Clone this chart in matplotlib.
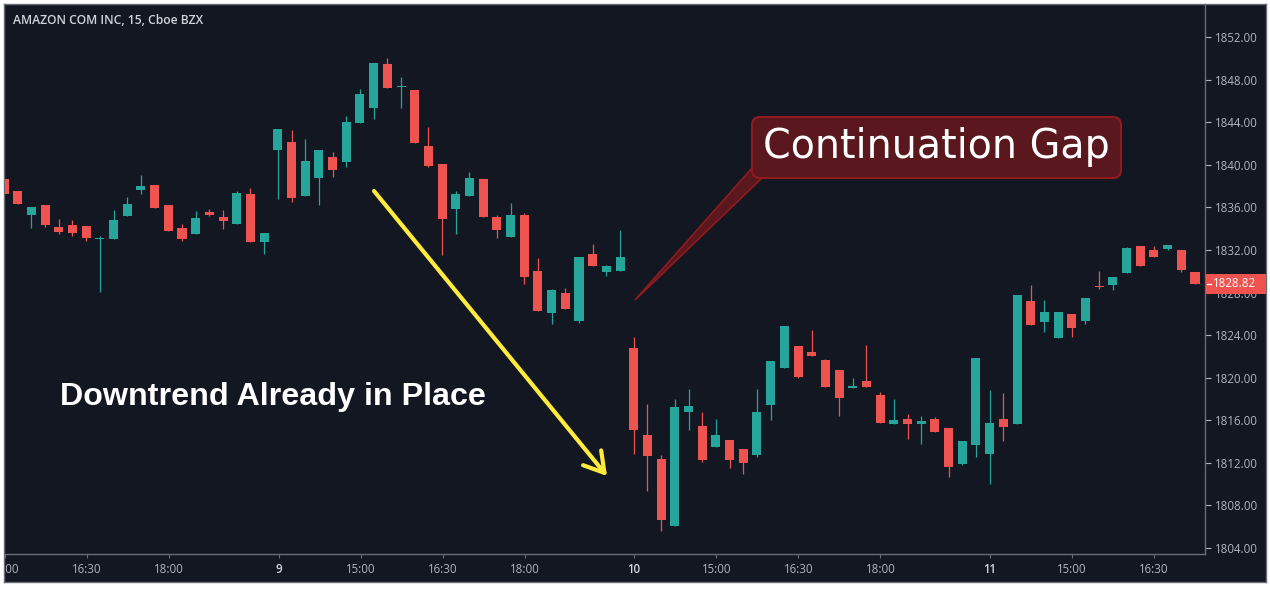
import matplotlib
matplotlib.use("Agg")
import matplotlib.pyplot as plt
from matplotlib.transforms import Affine2D, blended_transform_factory
from matplotlib.patches import FancyBboxPatch, Polygon, Rectangle
import numpy as np

W, H, DPI = 1270, 589, 100

# 15 minute bars, AMZN (Cboe BZX)
opens = [1838.66, 1837.53, 1835.31, 1836.22, 1834.15, 1834.34, 1834.25, 1833.03, 1833.03, 1835.19,
         1837.63, 1838.10, 1836.22, 1834.06, 1833.52, 1835.56, 1835.09, 1834.46, 1837.25, 1832.77,
         1841.41, 1842.14, 1837.09, 1838.78, 1840.73, 1840.29, 1843.95, 1845.36, 1849.46, 1847.30,
         1847.02, 1841.76, 1840.07, 1835.87, 1837.09, 1838.66, 1835.09, 1833.24, 1835.28, 1830.02,
         1826.10, 1827.95, 1825.35, 1831.62, 1829.95, 1830.05, 1822.79, 1814.62, 1812.36, 1806.07,
         1816.78, 1815.46, 1813.49, 1814.15, 1813.30, 1812.74, 1817.43, 1820.91, 1822.97, 1822.41,
         1821.66, 1820.72, 1819.03, 1819.69, 1818.37, 1815.65, 1816.12, 1815.65, 1816.12, 1815.27,
         1811.89, 1813.68, 1812.83, 1816.12, 1815.65, 1827.20, 1825.23, 1823.73, 1825.98, 1825.32,
         1828.61, 1828.70, 1829.83, 1832.37, 1832.00, 1832.09, 1832.00, 1829.93]
highs = [1838.66, 1837.53, 1836.03, 1836.22, 1834.90, 1834.81, 1834.25, 1833.34, 1835.78, 1837.00,
         1839.04, 1838.10, 1836.22, 1834.43, 1835.68, 1835.84, 1835.75, 1837.53, 1837.82, 1833.59,
         1843.36, 1843.26, 1842.42, 1841.39, 1841.20, 1844.58, 1847.12, 1849.56, 1850.03, 1848.24,
         1847.02, 1843.55, 1840.07, 1837.53, 1839.32, 1838.66, 1835.28, 1836.41, 1835.47, 1831.24,
         1828.33, 1828.42, 1831.33, 1832.56, 1830.58, 1833.87, 1823.82, 1817.53, 1812.74, 1818.00,
         1818.94, 1816.78, 1816.12, 1814.15, 1813.30, 1818.94, 1821.57, 1824.85, 1822.97, 1824.48,
         1821.75, 1820.72, 1819.97, 1823.07, 1818.65, 1818.00, 1816.59, 1816.40, 1816.31, 1815.27,
         1814.05, 1821.85, 1818.84, 1818.56, 1827.77, 1828.70, 1827.30, 1826.17, 1825.98, 1827.48,
         1830.02, 1829.46, 1832.27, 1832.37, 1832.37, 1832.46, 1832.00, 1829.93]
lows = [1837.28, 1836.34, 1834.09, 1834.15, 1833.52, 1833.34, 1832.84, 1828.08, 1833.03, 1835.19,
        1837.28, 1835.97, 1833.81, 1832.87, 1833.52, 1835.22, 1833.97, 1834.46, 1832.77, 1831.64,
        1836.81, 1836.53, 1837.09, 1836.25, 1838.88, 1839.82, 1843.95, 1844.33, 1847.24, 1845.36,
        1842.07, 1839.82, 1831.55, 1833.52, 1837.09, 1835.12, 1833.15, 1833.24, 1828.83, 1826.29,
        1825.07, 1826.48, 1825.16, 1830.52, 1829.58, 1830.05, 1812.83, 1809.36, 1805.60, 1806.07,
        1815.08, 1812.08, 1813.49, 1811.52, 1810.95, 1812.55, 1816.02, 1820.91, 1819.97, 1822.04,
        1819.12, 1816.40, 1819.03, 1819.12, 1815.74, 1815.65, 1814.24, 1813.77, 1814.90, 1810.67,
        1811.80, 1812.55, 1810.01, 1814.05, 1815.65, 1824.95, 1824.29, 1823.73, 1823.82, 1825.04,
        1828.33, 1828.24, 1829.83, 1830.49, 1831.33, 1832.00, 1829.93, 1828.82]
closes = [1837.28, 1836.34, 1836.03, 1834.37, 1833.68, 1833.59, 1833.12, 1833.12, 1834.81, 1836.31,
          1838.00, 1835.97, 1833.81, 1833.03, 1835.00, 1835.31, 1834.74, 1837.35, 1832.77, 1833.59,
          1843.36, 1836.91, 1840.35, 1841.39, 1839.54, 1844.02, 1846.65, 1849.56, 1847.24, 1847.40,
          1842.07, 1839.91, 1834.93, 1837.25, 1838.76, 1835.12, 1833.90, 1835.28, 1829.48, 1826.29,
          1828.24, 1826.48, 1831.33, 1830.52, 1830.49, 1831.33, 1815.08, 1812.64, 1806.63, 1817.25,
          1817.34, 1812.27, 1814.62, 1812.27, 1811.98, 1816.78, 1821.57, 1824.85, 1820.06, 1822.04,
          1819.12, 1818.09, 1819.22, 1819.12, 1815.74, 1816.02, 1815.65, 1815.93, 1814.90, 1811.61,
          1814.05, 1821.85, 1815.74, 1815.37, 1827.77, 1824.95, 1826.17, 1826.17, 1824.67, 1827.48,
          1828.52, 1829.46, 1832.18, 1830.49, 1831.33, 1832.46, 1830.11, 1828.82]

time_ticks = [0, 6, 12, 20, 26, 32, 38, 46, 52, 58, 64, 72, 78, 84]
time_labels = ["15:00", "16:30", "18:00", "9", "15:00", "16:30", "18:00",
               "10", "15:00", "16:30", "18:00", "11", "15:00", "16:30"]
price_ticks = list(range(1804, 1853, 4))
last_price = 1828.82

BG = "#131722"
UP = "#26a69a"
DOWN = "#ef5350"
TXT = "#b2b5be"
LINE = "#6a6d78"

fig = plt.figure(figsize=(W / DPI, H / DPI), dpi=DPI, facecolor="white")
px = Affine2D().scale(1 / DPI, -1 / DPI).translate(0, H / DPI) + fig.dpi_scale_trans

# dark panel with border
bg = fig.add_axes([4 / W, (H - 582) / H, 1262 / W, 578 / H])
bg.set_facecolor(BG)
bg.set_xticks([])
bg.set_yticks([])
for s in bg.spines.values():
    s.set_color(LINE)
    s.set_linewidth(1)

# price pane
ax = fig.add_axes([5 / W, (H - 554) / H, 1200 / W, 550 / H])
ax.patch.set_alpha(0)
ax.set_xlim(0.07, 87.73)
ax.set_ylim(1803.44, 1855.10)
for side in ["top", "left"]:
    ax.spines[side].set_visible(False)
for side in ["right", "bottom"]:
    ax.spines[side].set_color(LINE)
    ax.spines[side].set_linewidth(1)

o = np.array(opens)
c = np.array(closes)
x = np.arange(len(o))
cols = np.where(c >= o, UP, DOWN)
ax.vlines(x, lows, highs, colors=cols, linewidth=0.9, zorder=2)
body_h = np.maximum(np.abs(c - o), 0.1)
ax.bar(x, body_h, bottom=np.minimum(o, c), width=0.66, color=cols, linewidth=0, zorder=3)

ax.tick_params(axis="x", bottom=False, labelbottom=False)
ax.yaxis.tick_right()
ax.set_yticks(price_ticks)
ax.set_yticklabels([f"{p:.2f}" for p in price_ticks], fontfamily="Open Sans", fontsize=8.3)
ax.tick_params(axis="y", colors=TXT, length=4, width=0.8, pad=3)
for t in ax.yaxis.get_ticklines():
    t.set_color(LINE)

# last price tag
bt = blended_transform_factory(ax.transAxes, ax.transData)
ax.add_patch(Rectangle((1 + 1 / 1200, last_price - 0.94), 60 / 1200, 1.88,
                       transform=bt, clip_on=False, facecolor=DOWN, edgecolor="none", zorder=10))
ax.plot([1 + 2 / 1200, 1 + 6 / 1200], [last_price, last_price], transform=bt,
        color="white", lw=0.9, clip_on=False, zorder=11)
ax.text(1 + 8 / 1200, last_price, f"{last_price:.2f}", transform=bt, color="white",
        fontfamily="Open Sans", fontsize=8.3, va="center", ha="left", zorder=11)

# time scale
ax_t = fig.add_axes([5 / W, (H - 582) / H, 1200 / W, 28 / H])
ax_t.patch.set_alpha(0)
ax_t.set_xlim(ax.get_xlim())
ax_t.set_ylim(0, 1)
for s in ax_t.spines.values():
    s.set_visible(False)
ax_t.set_yticks([])
ax_t.set_xticks(time_ticks)
ax_t.tick_params(axis="x", top=True, bottom=False, direction="in", length=3,
                 color=LINE, labelbottom=False, labeltop=False)
for pos, lab in zip(time_ticks, time_labels):
    is_day = ":" not in lab
    ax_t.text(pos, 0.46, lab, ha="center", va="center",
              color="#d1d4dc" if is_day else TXT,
              fontweight="semibold" if is_day else "normal",
              fontfamily="Open Sans", fontsize=8.3, clip_on=True)

# title
fig.text(13, 20, "AMAZON COM INC, 15, Cboe BZX", transform=px, color="#d1d4dc",
         fontfamily="Open Sans", fontsize=8.7, fontweight="semibold", va="center", ha="left")

# annotations
fig.text(60, 405, "Downtrend Already in Place", transform=px, color="white",
         fontfamily="Liberation Sans", fontweight="bold", fontsize=23.2, va="baseline", ha="left")

ax.annotate("", xy=(607, 476), xytext=(374, 191), xycoords=px, textcoords=px,
            arrowprops=dict(arrowstyle="->,head_length=0.7,head_width=0.42", color="#ffeb3b",
                            lw=3, mutation_scale=20, shrinkA=0, shrinkB=0), zorder=20)

callout_fill = "#5a171d"
callout_edge = "#8e1b1e"
ptr = Polygon([(635, 300), (752, 168), (762, 178)], closed=True, transform=px,
              facecolor=callout_fill, edgecolor=callout_edge, lw=1.2, zorder=20)
fig.add_artist(ptr)
box = FancyBboxPatch((752, 117), 369, 61, boxstyle="round,pad=0,rounding_size=8", transform=px,
                     facecolor=callout_fill, edgecolor=callout_edge, lw=1.5, zorder=21)
fig.add_artist(box)
fig.text(936.5, 147, "Continuation Gap", transform=px, color="white", fontfamily="DejaVu Sans",
         fontsize=28.5, ha="center", va="center", zorder=22)

fig.savefig("out.png", dpi=DPI, facecolor="white")
